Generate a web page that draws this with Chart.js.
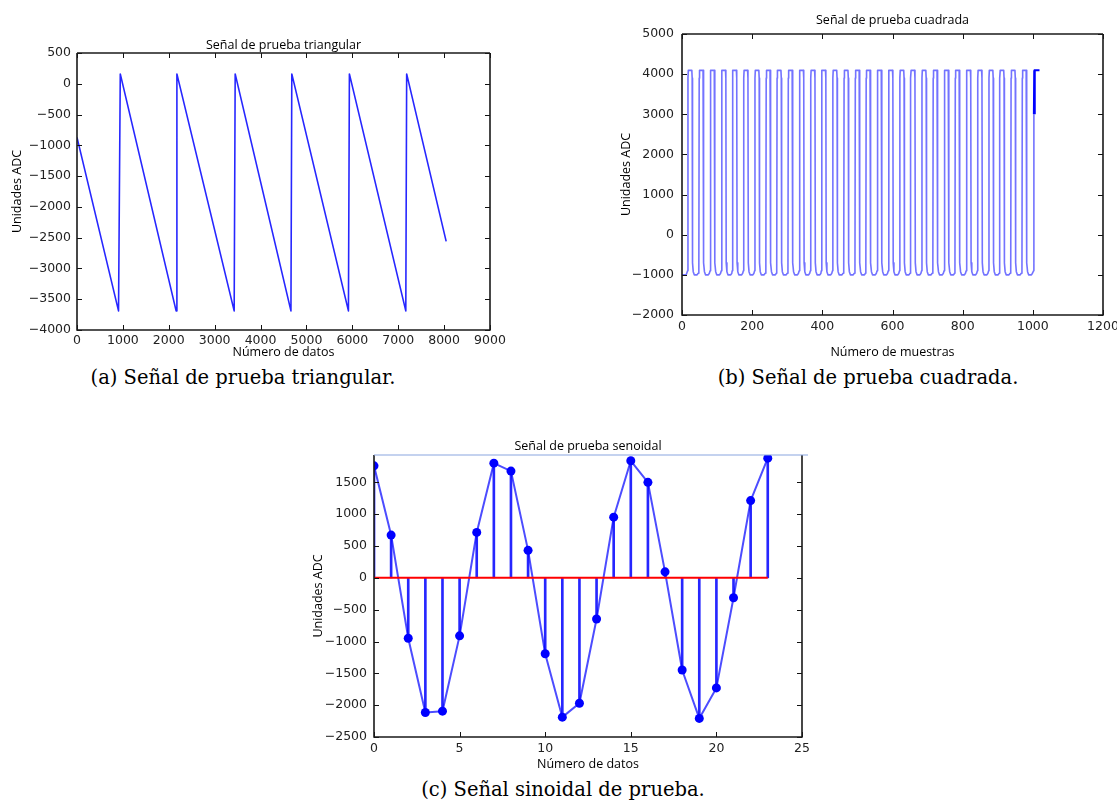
<!DOCTYPE html>
<html lang="es">
<head>
<meta charset="utf-8">
<title>Señales de prueba</title>
<script src="https://cdn.jsdelivr.net/npm/chart.js@4.4.1/dist/chart.umd.min.js"></script>
<style>
  html, body { margin: 0; padding: 0; background: #fff; overflow: hidden; }
  body { position: relative; width: 1117px; height: 801px; }
  canvas { position: absolute; }
  .caption { position: absolute; transform: translate(-50%, -50%); white-space: nowrap;
             font-family: 'DejaVu Serif', serif; font-size: 19.5px; line-height: 1; color: #000; }
</style>
</head>
<body>
<canvas id="chart-tri" width="504" height="329" style="left:6px;top:31px"></canvas>
<canvas id="chart-sq" width="508" height="348" style="left:615px;top:12px"></canvas>
<canvas id="chart-sin" width="515" height="339" style="left:307px;top:433px"></canvas>
<div class="caption" style="left:243px;top:378px">(a) Señal de prueba triangular.</div>
<div class="caption" style="left:868px;top:378px">(b) Señal de prueba cuadrada.</div>
<div class="caption" style="left:563px;top:790px">(c) Señal sinoidal de prueba.</div>
<script>
// (a) señal triangular: vértices
const triX = [0, 905, 943, 2160, 2177, 3425, 3447, 4662, 4681, 5915, 5936, 7165, 7184, 8045];
const triY = [-870, -3690, 160, -3690, 160, -3690, 160, -3690, 160, -3690, 160, -3690, 160, -2560];
const triXTicks = [0, 1000, 2000, 3000, 4000, 5000, 6000, 7000, 8000, 9000];
const triYTicks = [-4000, -3500, -3000, -2500, -2000, -1500, -1000, -500, 0, 500];

// (b) señal cuadrada: flancos de subida y forma de un pulso
const sqStartX = [0, 12];
const sqStartY = [-1000, -1000];
const sqRise = [16, 48, 80, 112, 143, 175, 207, 239, 270, 302, 334, 366, 397, 429, 461, 493,
                524, 556, 588, 620, 651, 683, 715, 747, 778, 810, 842, 874, 905, 937, 969];
const sqPulseOffset = [0, 1, 2, 12, 13, 14, 16, 19, 27, 30];
const sqPulseValue = [-900, 3900, 4095, 4095, 3900, -700, -920, -1000, -1000, -960];
const sqEndX = [1002, 1003];
const sqEndY = [-900, 3000];
const sqTailX = [1003, 1004, 1005, 1006, 1019];
const sqTailY = [3000, 4095, 3000, 4095, 4095];
const sqXTicks = [0, 200, 400, 600, 800, 1000, 1200];
const sqYTicks = [-2000, -1000, 0, 1000, 2000, 3000, 4000, 5000];

// (c) señal senoidal muestreada
const sinX = [0, 1, 2, 3, 4, 5, 6, 7, 8, 9, 10, 11, 12, 13, 14, 15, 16, 17, 18, 19, 20, 21, 22, 23];
const sinY = [1760, 672, -948, -2115, -2094, -911, 714, 1802, 1677, 432, -1193, -2188,
              -1969, -646, 953, 1839, 1500, 94, -1448, -2208, -1729, -313, 1214, 1880];
const sinXTicks = [0, 5, 10, 15, 20, 25];
const sinYTicks = [-2500, -2000, -1500, -1000, -500, 0, 500, 1000, 1500];
const sinYMax = 1930;

const TICK_FONT = { family: "'DejaVu Sans', sans-serif", size: 12.5 };
const LABEL_FONT = { family: "'Open Sans', sans-serif", size: 12.5, lineHeight: 1.2 };

const fmtTick = v => (v < 0 ? '\u2212' : '') + Math.abs(v);

// marco tipo matplotlib: borde en los 4 lados, marcas hacia dentro y título
const mplFrame = {
    id: 'mplFrame',
    afterDraw(chart, args, opts) {
        const { ctx, chartArea: a } = chart;
        const xs = chart.scales.x, ys = chart.scales.y;
        const len = 5;
        ctx.save();
        ctx.strokeStyle = '#111';
        ctx.lineWidth = 1;
        ctx.beginPath();
        xs.ticks.forEach(t => {
            const px = Math.round(xs.getPixelForValue(t.value)) + 0.5;
            ctx.moveTo(px, a.bottom); ctx.lineTo(px, a.bottom - len);
            if (opts.topTicks !== false) { ctx.moveTo(px, a.top); ctx.lineTo(px, a.top + len); }
        });
        ys.ticks.forEach(t => {
            const py = Math.round(ys.getPixelForValue(t.value)) + 0.5;
            ctx.moveTo(a.left, py); ctx.lineTo(a.left + len, py);
            ctx.moveTo(a.right, py); ctx.lineTo(a.right - len, py);
        });
        ctx.stroke();

        ctx.lineWidth = 1.6;
        ctx.strokeStyle = '#1a1a1a';
        ctx.beginPath();
        ctx.moveTo(a.right, a.top);
        ctx.lineTo(a.right, a.bottom);
        ctx.lineTo(a.left, a.bottom);
        ctx.lineTo(a.left, a.top);
        ctx.stroke();

        ctx.strokeStyle = opts.topColor || '#1a1a1a';
        ctx.lineWidth = opts.topWidth || 1.6;
        ctx.beginPath();
        ctx.moveTo(a.left, a.top);
        ctx.lineTo(a.right + (opts.topExtend || 0), a.top);
        ctx.stroke();

        if (opts.title) {
            ctx.fillStyle = '#000';
            ctx.font = `${LABEL_FONT.size}px ${LABEL_FONT.family}`;
            ctx.textAlign = 'center';
            ctx.textBaseline = 'middle';
            ctx.fillText(opts.title, (a.left + a.right) / 2, a.top - opts.titleOffset);
        }
        ctx.restore();
    }
};

function makeAxis(ticks, min, max, size, padding, title) {
    return {
        type: 'linear',
        min: min,
        max: max,
        offset: false,
        afterBuildTicks: scale => { scale.ticks = ticks.map(v => ({ value: v })); },
        afterFit: scale => {
            if (scale.isHorizontal()) scale.height = size; else scale.width = size;
            scale.paddingLeft = 0; scale.paddingRight = 0;
            scale.paddingTop = 0; scale.paddingBottom = 0;
        },
        grid: { display: false, drawTicks: false },
        border: { display: false },
        ticks: { font: TICK_FONT, color: '#222', padding: padding, maxRotation: 0, autoSkip: false, callback: fmtTick },
        title: { display: true, text: title, font: LABEL_FONT, color: '#000', padding: { top: 4, bottom: 0 } }
    };
}

function baseOptions(x, y, frame) {
    return {
        responsive: false,
        devicePixelRatio: 1,
        animation: false,
        events: [],
        layout: { padding: { top: 22, right: 20, left: 0, bottom: 0 } },
        plugins: { legend: { display: false }, tooltip: { enabled: false }, mplFrame: frame },
        scales: { x: x, y: y }
    };
}

// (a)
new Chart(document.getElementById('chart-tri'), {
    type: 'line',
    data: {
        datasets: [{
            data: triX.map((x, i) => ({ x: x, y: triY[i] })),
            borderColor: 'rgba(0, 0, 255, 0.85)',
            borderWidth: 1.6,
            borderJoinStyle: 'round',
            pointRadius: 0,
            tension: 0
        }]
    },
    options: baseOptions(
        makeAxis(triXTicks, 0, 9000, 30, 3, 'Número de datos'),
        makeAxis(triYTicks, -4000, 500, 71, 6, 'Unidades ADC'),
        { title: 'Señal de prueba triangular', titleOffset: 7.3 }
    ),
    plugins: [mplFrame]
});

// (b)
const sqPoints = [];
sqStartX.forEach((x, i) => sqPoints.push({ x: x, y: sqStartY[i] }));
sqRise.forEach(r => sqPulseOffset.forEach((o, i) => sqPoints.push({ x: r + o, y: sqPulseValue[i] })));
sqEndX.forEach((x, i) => sqPoints.push({ x: x, y: sqEndY[i] }));

new Chart(document.getElementById('chart-sq'), {
    type: 'line',
    data: {
        datasets: [{
            data: sqPoints,
            borderColor: 'rgba(40, 40, 255, 0.65)',
            borderWidth: 1.6,
            borderJoinStyle: 'round',
            pointRadius: 0,
            tension: 0
        }, {
            data: sqTailX.map((x, i) => ({ x: x, y: sqTailY[i] })),
            borderColor: '#0000ff',
            borderWidth: 2,
            pointRadius: 0,
            tension: 0
        }]
    },
    options: baseOptions(
        makeAxis(sqXTicks, 0, 1200, 45, 4, 'Número de muestras'),
        makeAxis(sqYTicks, -2000, 5000, 67, 8, 'Unidades ADC'),
        { title: 'Señal de prueba cuadrada', titleOffset: 13.3 }
    ),
    plugins: [mplFrame]
});

// (c)
const sinPoints = sinX.map((x, i) => ({ x: x, y: sinY[i] }));
const sinYAxis = makeAxis(sinYTicks, -2500, sinYMax, 67, 7, 'Unidades ADC');
sinYAxis.ticks.includeBounds = false;

new Chart(document.getElementById('chart-sin'), {
    type: 'line',
    data: {
        datasets: [{
            // marcadores
            data: sinPoints,
            showLine: false,
            pointRadius: 4.5,
            pointBackgroundColor: '#0000ff',
            pointBorderWidth: 0,
            order: 0
        }, {
            // línea base
            data: [{ x: sinX[0], y: 0 }, { x: sinX[sinX.length - 1], y: 0 }],
            borderColor: '#ff0000',
            borderWidth: 2,
            pointRadius: 0,
            order: 1
        }, {
            data: sinPoints,
            borderColor: 'rgba(0, 0, 255, 0.7)',
            borderWidth: 2,
            borderJoinStyle: 'round',
            pointRadius: 0,
            tension: 0,
            order: 2
        }, {
            // tallos
            type: 'bar',
            data: sinX.map((x, i) => ({ x: x, y: [0, sinY[i]] })),
            backgroundColor: 'rgba(0, 0, 255, 0.85)',
            borderWidth: 0,
            barThickness: 2,
            order: 3
        }]
    },
    options: baseOptions(
        makeAxis(sinXTicks, 0, 25, 35, 4, 'Número de datos'),
        sinYAxis,
        { title: 'Señal de prueba senoidal', titleOffset: 9, topColor: '#8aa6e0', topWidth: 1.2, topExtend: 6, topTicks: false }
    ),
    plugins: [mplFrame]
});
</script>
</body>
</html>
